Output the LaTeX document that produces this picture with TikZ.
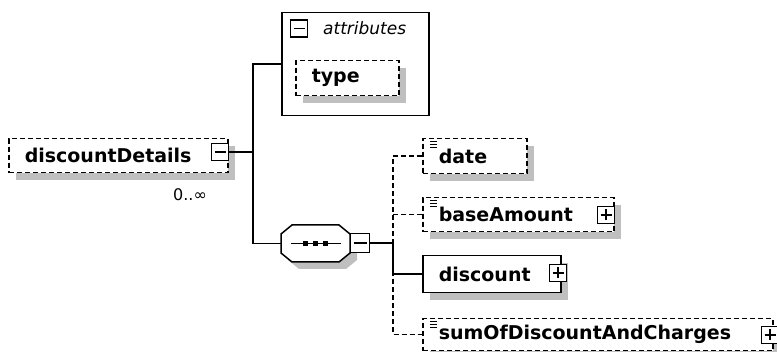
\documentclass[tikz,border=0pt]{standalone}
\usepackage{fontspec}
\setmainfont{DejaVu Sans}
\usetikzlibrary{shadows}

\tikzset{
  shade/.style={drop shadow={shadow xshift=7pt, shadow yshift=-7pt, fill=black!25, opacity=1}},
  elem/.style={draw, fill=white, line width=1.5pt, anchor=north west, inner xsep=16pt, inner ysep=0pt,
    font=\fontsize{19}{21}\selectfont\bfseries, shade},
  optelem/.style={elem, dash pattern=on 5pt off 3pt},
  pm/.style={draw, fill=white, line width=1.3pt, minimum size=17pt, inner sep=0pt},
  minus/.style={pm, path picture={\draw[line width=1.3pt] ([xshift=3pt]path picture bounding box.west) -- ([xshift=-3pt]path picture bounding box.east);}},
  plus/.style={pm, path picture={
    \draw[line width=1.3pt] ([xshift=3pt]path picture bounding box.west) -- ([xshift=-3pt]path picture bounding box.east);
    \draw[line width=1.3pt] ([yshift=-3pt]path picture bounding box.north) -- ([yshift=3pt]path picture bounding box.south);}},
  link/.style={line width=1.5pt},
  optlink/.style={link, dash pattern=on 5pt off 3pt},
}
\newcommand{\simpleicon}[1]{\foreach \dy in {4,7,10} \draw[line width=1pt] ([shift={(8,\dy)}]#1.north west) -- +(7,0);}
\newcommand{\octagon}{(-34.5,-9.5) -- (-23.5,-18.5) -- (23.5,-18.5) -- (34.5,-9.5) -- (34.5,9.5) -- (23.5,18.5) -- (-23.5,18.5) -- (-34.5,9.5) -- cycle}

\begin{document}
\begin{tikzpicture}[x=1pt,y=-1pt]
\useasboundingbox (0,0) rectangle (777,352);

\node[optelem, minimum height=34pt] (root) at (8,138) {\makebox[187pt][l]{discountDetails}};
\node[minus] (rootpm) at (220,152) {};
\node[inner sep=0pt, font=\fontsize{16}{18}\selectfont] (card) at (190,195) {0..∞};

\node[draw, fill=white, line width=1.5pt, anchor=north west, minimum width=147pt, minimum height=103pt] (attrs) at (281,12) {};
\node[minus] (attrpm) at (299,28.5) {};
\node[anchor=west, inner sep=0pt, font=\fontsize{17}{19}\selectfont\itshape] (attrlbl) at (323,28) {attributes};
\node[optelem, minimum height=35pt] (type) at (295,60) {\makebox[71pt][l]{type}};

% sequence compositor
\node[minimum width=69pt, minimum height=37pt, inner sep=0pt] (seq) at (315.5,243.5) {};
\fill[black!25, shift={(seq.center)}, xshift=7pt, yshift=-7pt] \octagon;
\draw[line width=1.5pt, fill=white, shift={(seq.center)}] \octagon;
\draw[line width=1.3pt] ([xshift=-25pt]seq.center) -- ([xshift=25pt]seq.center);
\foreach \dx in {-10,0,10} \fill ([shift={(\dx-2.5,-2.5)}]seq.center) rectangle +(5,5);
\node[minus, minimum size=19pt] (seqpm) at (360,243) {};

\node[optelem, minimum height=35pt] (date) at (422,138) {\makebox[72pt][l]{date}};
\node[optelem, minimum height=34pt] (base) at (422,197) {\makebox[159pt][l]{baseAmount}};
\node[plus] (basepm) at (606,215) {};
\node[elem, minimum height=37pt] (disc) at (422,255) {\makebox[106pt][l]{discount}};
\node[plus] (discpm) at (558,273) {};
\node[optelem, minimum height=32pt] (sum) at (422,318) {\makebox[318pt][l]{sumOfDiscountAndCharges}};
\node[plus] (sumpm) at (770,335) {};
\simpleicon{date}
\simpleicon{base}
\simpleicon{sum}

\coordinate (j1) at (253,152);
\coordinate (j2) at (393,243);
\draw[link] (rootpm) -- (j1);
\draw[link] (attrs.west) -| (j1) |- (seq.west);
\draw[optlink] (date.west) -| (j2) |- (sum.west);
\draw[optlink] (j2 |- base.west) -- (base.west);
\draw[link] (seqpm) -- (j2) |- (disc.west);
\end{tikzpicture}
\end{document}
